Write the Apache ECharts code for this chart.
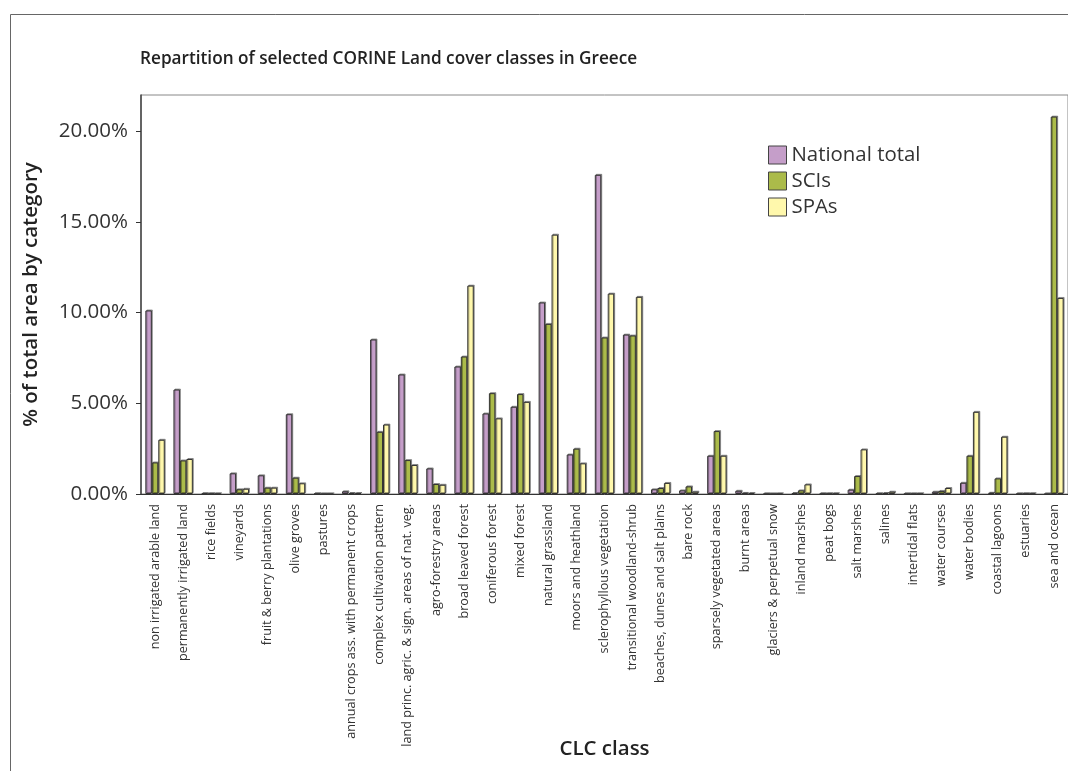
<!DOCTYPE html>
<html>
<head>
<meta charset="utf-8">
<script src="https://cdn.jsdelivr.net/npm/echarts@6/dist/echarts.min.js"></script>
<style>
	html, body { margin: 0; padding: 0; background: #fff; }
	#chart { width: 1068px; height: 771px; }
</style>
</head>
<body>
<div id="chart"></div>
<script>
// CLC classes
var categories = [
	'non irrigated arable land', 'permanently irrigated land', 'rice fields', 'vineyards',
	'fruit & berry plantations', 'olive groves', 'pastures', 'annual crops ass. with permanent crops',
	'complex cultivation pattern', 'land princ. agric. & sign. areas of nat. veg.', 'agro-forestry areas',
	'broad leaved forest', 'coniferous forest', 'mixed forest', 'natural grassland', 'moors and heathland',
	'sclerophyllous vegetation', 'transitional woodland-shrub', 'beaches, dunes and salt plains', 'bare rock',
	'sparsely vegetated areas', 'burnt areas', 'glaciers & perpetual snow', 'inland marshes', 'peat bogs',
	'salt marshes', 'salines', 'intertidal flats', 'water courses', 'water bodies', 'coastal lagoons',
	'estuaries', 'sea and ocean'
];

// % of total area
var nationalTotal = [10.12, 5.76, 0.03, 1.14, 1.03, 4.40, 0.02, 0.15, 8.52, 6.59, 1.41, 7.03, 4.44, 4.81, 10.56, 2.18, 17.60, 8.79, 0.26, 0.20, 2.11, 0.18, 0.01, 0.05, 0.02, 0.24, 0.02, 0.01, 0.13, 0.62, 0.07, 0.01, 0];
var scis = [1.74, 1.85, 0.02, 0.26, 0.35, 0.90, 0, 0.05, 3.43, 1.87, 0.55, 7.58, 5.56, 5.51, 9.38, 2.50, 8.63, 8.74, 0.33, 0.42, 3.47, 0.06, 0, 0.20, 0.02, 0.99, 0.05, 0.01, 0.17, 2.11, 0.86, 0.02, 20.81];
var spas = [2.99, 1.93, 0.01, 0.29, 0.35, 0.59, 0, 0.04, 3.83, 1.60, 0.51, 11.49, 4.17, 5.08, 14.30, 1.69, 11.05, 10.87, 0.61, 0.13, 2.11, 0.04, 0.01, 0.53, 0.02, 2.46, 0.13, 0.01, 0.33, 4.53, 3.16, 0.02, 10.81];

var yTicks = [0, 5, 10, 15, 20];

var font = '"Open Sans", Lato, sans-serif';

function barSeries(name, color, arr){
	return {
		name: name,
		type: 'bar',
		barGap: '0%',
		barCategoryGap: '31%',
		itemStyle: {
			color: color,
			borderColor: '#333',
			borderWidth: 1,
			shadowColor: 'rgba(0,0,0,0.35)',
			shadowOffsetX: 1,
			shadowOffsetY: -1
		},
		emphasis: { disabled: true },
		data: arr
	};
}

var chart = echarts.init(document.getElementById('chart'));

chart.setOption({
	animation: false,
	textStyle: { fontFamily: font },
	title: {
		text: 'Repartition of selected CORINE Land cover classes in Greece',
		left: 135,
		top: 46,
		textStyle: { fontFamily: font, fontSize: 17.2, fontWeight: 600, color: '#222' }
	},
	graphic: [
		{
			type: 'rect',
			left: 8, top: 12,
			shape: { width: 1100, height: 800 },
			style: { fill: 'none', stroke: '#666', lineWidth: 1 },
			silent: true
		}
	],
	legend: {
		orient: 'vertical',
		left: 763,
		top: 140,
		itemWidth: 18,
		itemHeight: 18,
		itemGap: 6,
		icon: 'rect',
		itemStyle: { borderColor: '#444', borderWidth: 1 },
		textStyle: { fontFamily: font, fontSize: 20.4, lineHeight: 18, color: '#333' },
		data: ['National total', 'SCIs', 'SPAs']
	},
	grid: {
		left: 141,
		top: 95,
		right: 0,
		bottom: 277,
		outerBoundsMode: 'none',
		show: true,
		borderColor: '#888',
		borderWidth: 1
	},
	xAxis: {
		type: 'category',
		data: categories,
		name: 'CLC class',
		nameLocation: 'middle',
		nameGap: 245,
		nameMoveOverlap: false,
		nameTextStyle: { fontFamily: font, fontSize: 20.5, fontWeight: 600, color: '#222' },
		axisLine: { lineStyle: { color: '#333', width: 1 } },
		axisTick: { interval: 0, length: 5, lineStyle: { color: '#333' } },
		axisLabel: { interval: 0, rotate: 90, fontSize: 12.6, color: '#333', margin: 10 }
	},
	yAxis: {
		type: 'value',
		min: 0,
		max: 22,
		interval: 5,
		name: '% of total area by category',
		nameLocation: 'middle',
		nameGap: 99,
		nameMoveOverlap: false,
		nameTextStyle: { fontFamily: font, fontSize: 20.5, fontWeight: 600, color: '#222' },
		splitLine: { show: false },
		axisLine: { show: true, lineStyle: { color: '#444', width: 1.5 } },
		axisTick: { show: true, length: 5, customValues: yTicks, lineStyle: { color: '#333' } },
		axisLabel: {
			customValues: yTicks,
			fontSize: 20.5,
			color: '#333',
			margin: 13,
			formatter: function(v){ return v.toFixed(2) + '%'; }
		}
	},
	series: [
		barSeries('National total', '#c59ec9', nationalTotal),
		barSeries('SCIs', '#abbb4a', scis),
		barSeries('SPAs', '#fff8ac', spas)
	]
});
</script>
</body>
</html>
